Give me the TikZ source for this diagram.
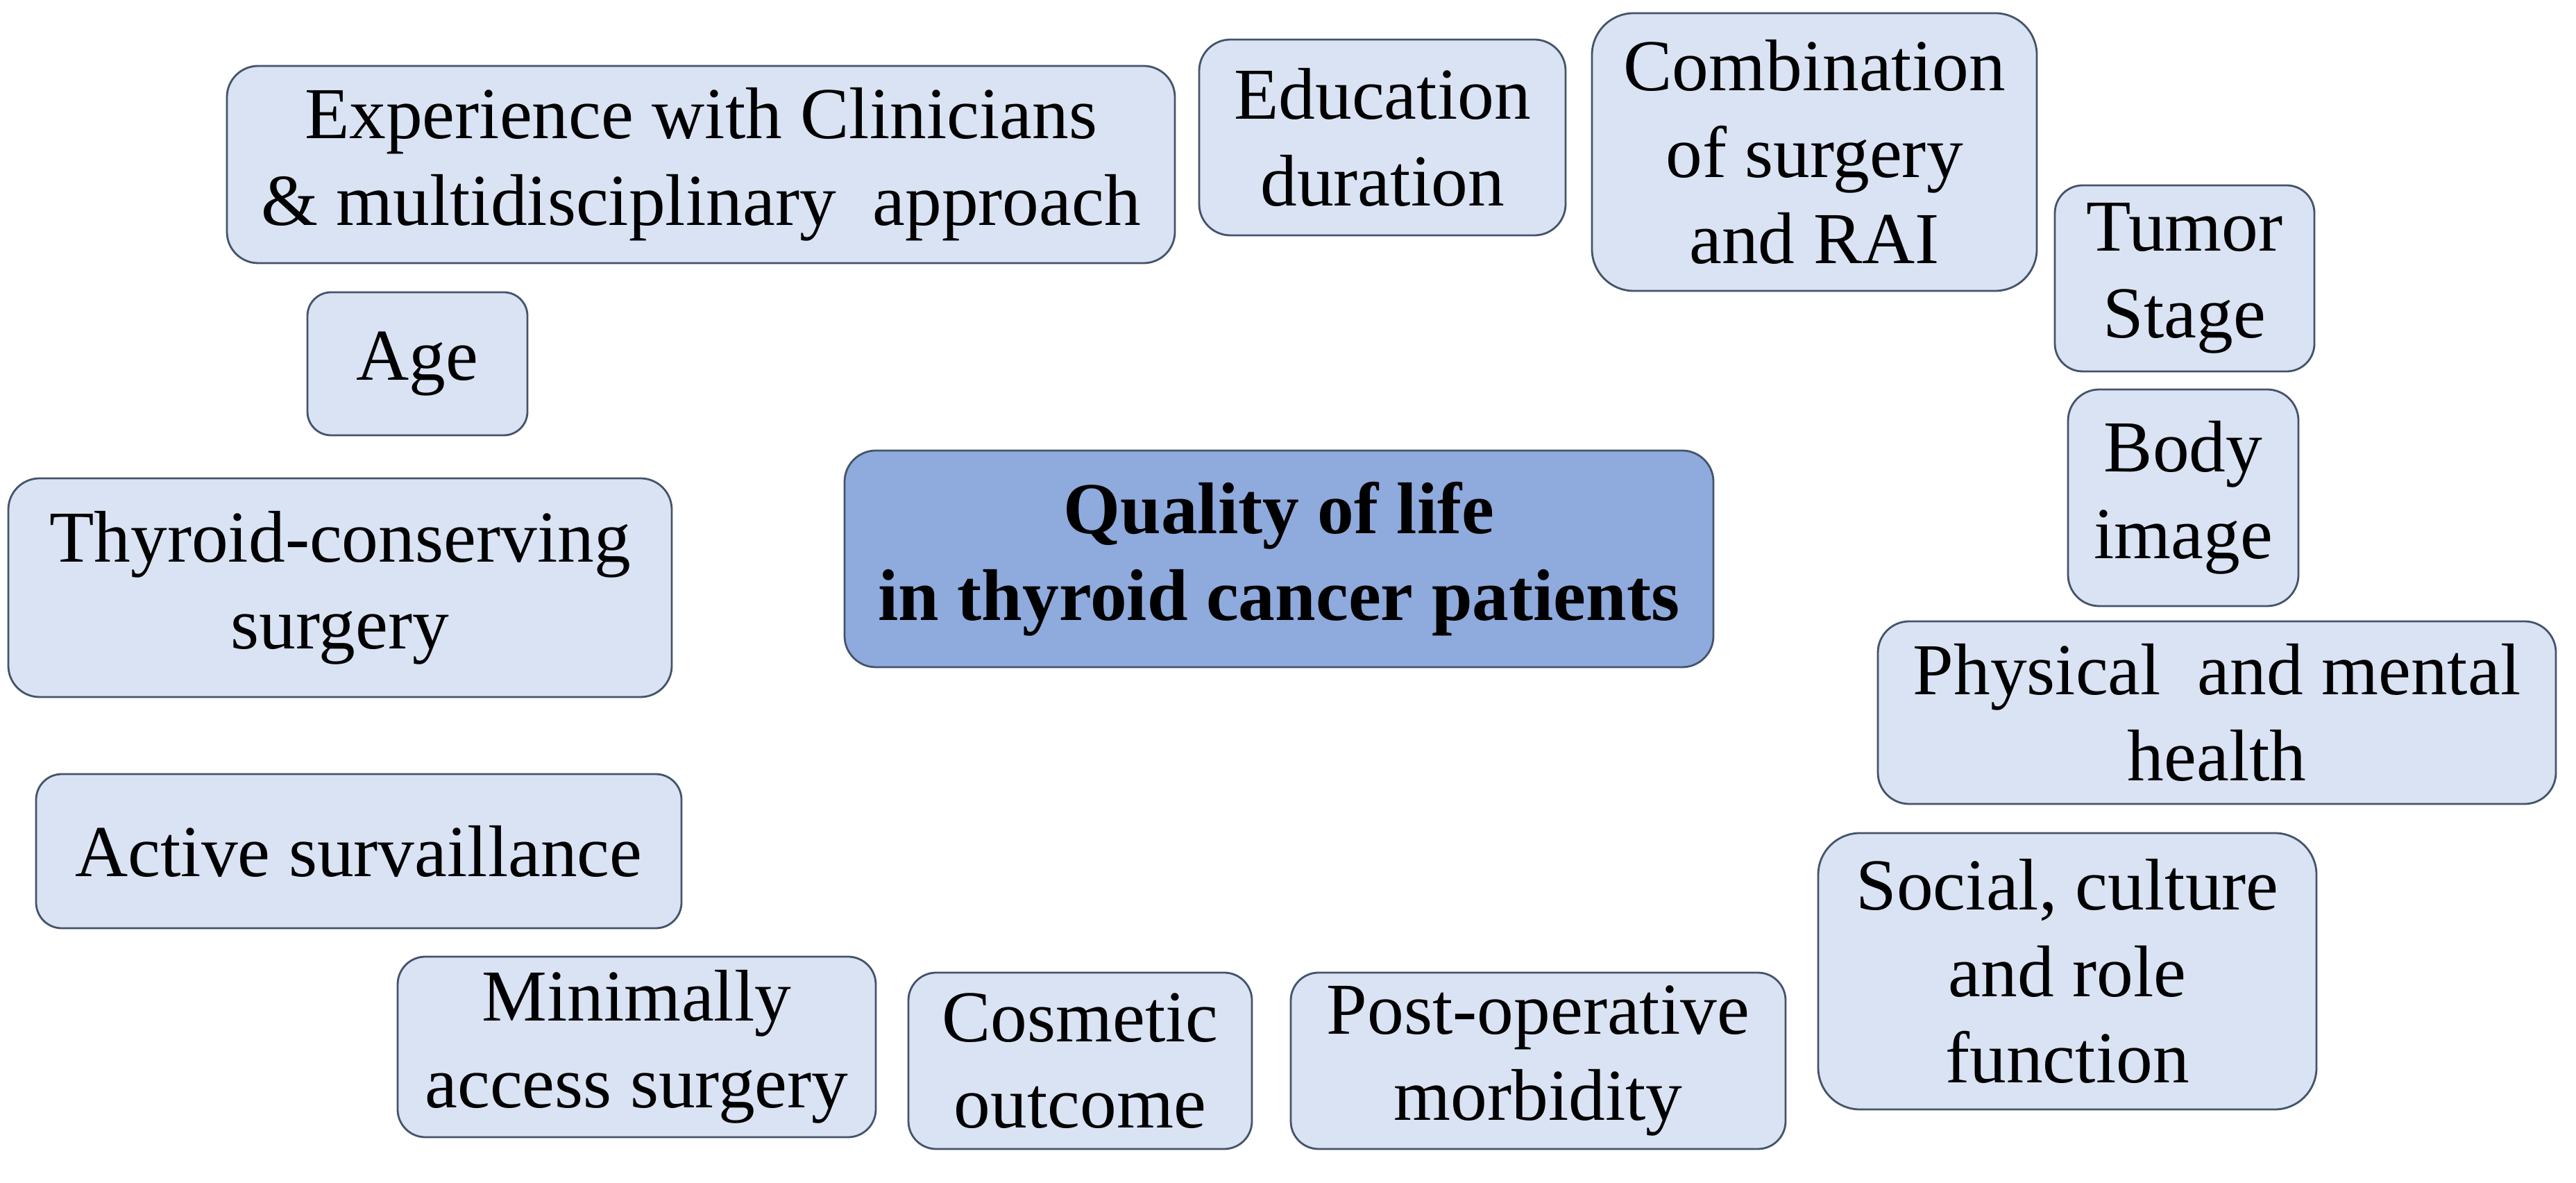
\documentclass[tikz,border=0pt]{standalone}
\usepackage{fontspec}
\setmainfont{Liberation Serif}
\usetikzlibrary{positioning}

\definecolor{boxfill}{HTML}{DAE3F3}
\definecolor{corefill}{HTML}{8FAADC}
\definecolor{boxline}{HTML}{44546A}

\tikzset{
  factor/.style={draw=boxline,fill=boxfill,line width=0.8pt,rounded corners=0.45cm,
    align=center,inner sep=0pt,font=\fontsize{30}{35.5}\selectfont},
  core/.style={factor,fill=corefill,font=\fontsize{30}{35.5}\selectfont\bfseries}
}

\begin{document}
\begin{tikzpicture}[x=1cm,y=1cm]
  \useasboundingbox (0,0) rectangle (37.12,17.03);
  \node[core,minimum width=12.52cm,minimum height=3.12cm] (qol) at (18.43,8.98) {Quality of life\hspace{0.25cm}\\in thyroid cancer patients};

  \node[factor,minimum width=13.66cm,minimum height=2.84cm] (clin) at (10.10,14.66) {Experience with Clinicians\\\& multidisciplinary\ \ approach};
  \node[factor,minimum width=5.28cm,minimum height=2.82cm] (edu) at (19.92,15.05) {Education\\duration};
  \node[factor,minimum width=6.41cm,minimum height=4.00cm,rounded corners=0.6cm] (rai) at (26.145,14.84) {Combination\\of surgery\\and RAI};
  \node[factor,minimum width=3.74cm,minimum height=2.68cm,rounded corners=0.4cm] (stage) at (31.48,13.02) {Tumor\\Stage};
  \node[factor,minimum width=3.32cm,minimum height=3.12cm,rounded corners=0.45cm] (body) at (31.46,9.86) {Body\\image};
  \node[factor,minimum width=9.77cm,minimum height=2.63cm] (phys) at (31.945,6.765) {Physical\ \ and mental\\health};
  \node[factor,minimum width=7.18cm,minimum height=3.98cm,rounded corners=0.6cm] (soc) at (29.79,3.04) {Social, culture\\and role\\function};
  \node[factor,minimum width=7.13cm,minimum height=2.54cm,rounded corners=0.4cm] (morb) at (22.165,1.75) {Post-operative\\morbidity};
  \node[factor,minimum width=4.95cm,minimum height=2.54cm,rounded corners=0.4cm] (cosm) at (15.565,1.75) {Cosmetic\\outcome};
  \node[factor,minimum width=6.89cm,minimum height=2.60cm,rounded corners=0.4cm] (mini) at (9.175,1.95) {Minimally\\access surgery};
  \node[factor,minimum width=9.30cm,minimum height=2.22cm,rounded corners=0.37cm] (surv) at (5.17,4.77) {Active survaillance};
  \node[factor,minimum width=9.56cm,minimum height=3.15cm] (cons) at (4.90,8.565) {Thyroid-conserving\\surgery};
  \node[factor,minimum width=3.17cm,minimum height=2.06cm,rounded corners=0.34cm] (age) at (6.015,11.79) {Age};
\end{tikzpicture}
\end{document}
